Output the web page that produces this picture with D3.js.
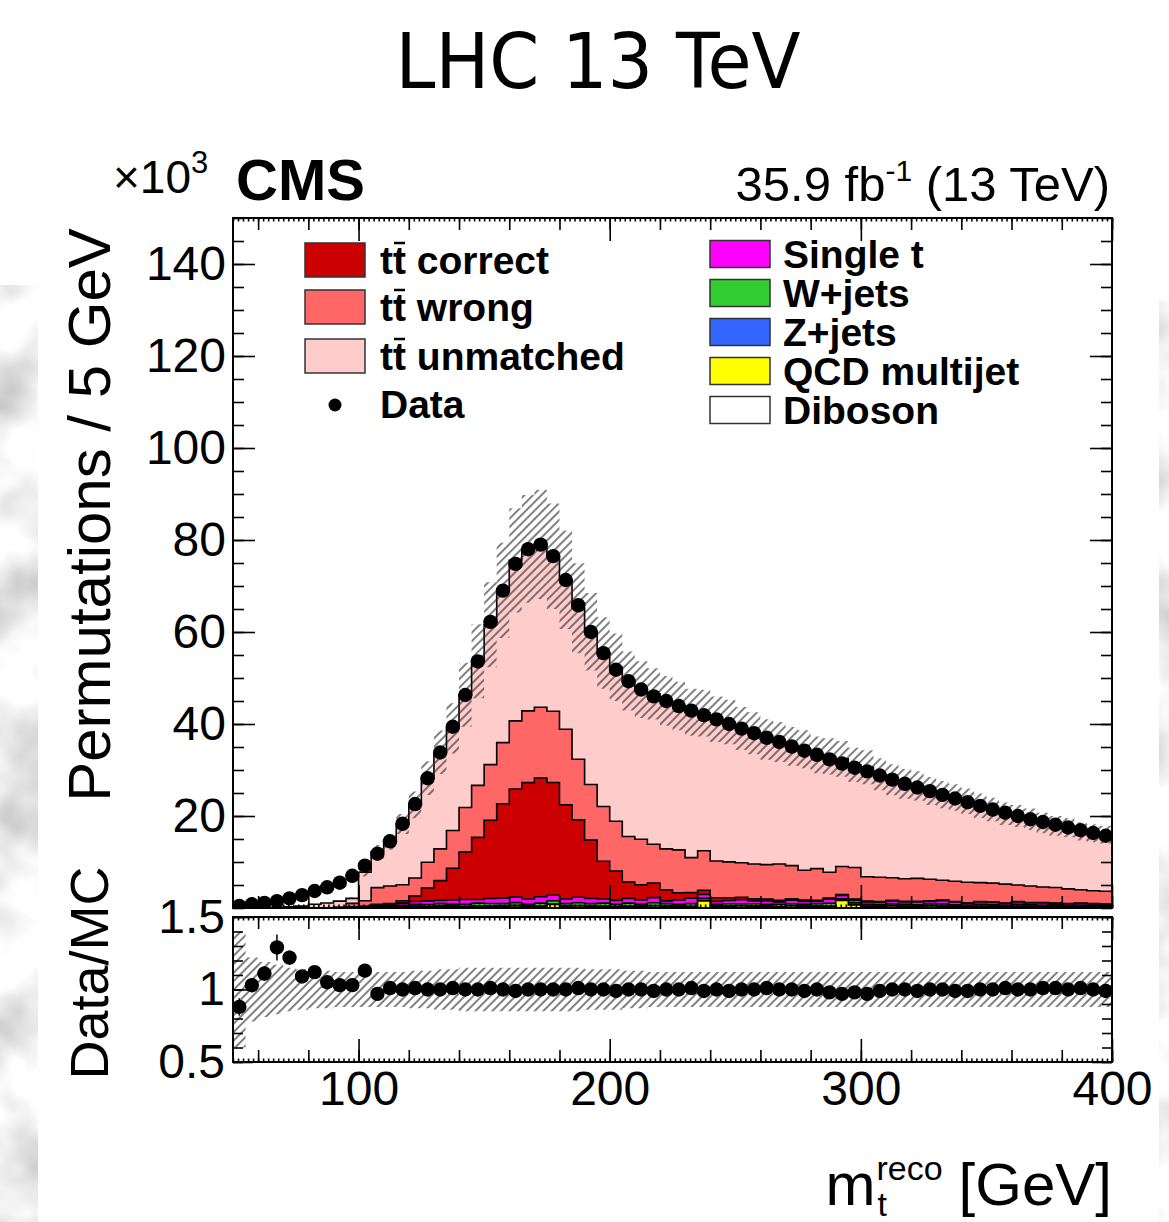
<!DOCTYPE html>
<html><head><meta charset="utf-8">
<script src="https://cdn.jsdelivr.net/npm/d3@7"></script>
<style>body{margin:0;background:#fff;} svg{display:block}</style>
</head><body>
<svg id="c" width="1169" height="1222"></svg>
<script>
// ---------- DATA (values in units of 10^3 permutations per 5 GeV bin) ----------
const binLow = d3.range(50, 400, 5);   // 70 bins of 5 GeV, 50..400 GeV
const binWidth = 5;

const dataVals = [0.45,0.8,1.1,1.5,2.1,2.8,3.7,4.5,5.5,7.0,
 9.2,11.8,14.5,18.3,22.6,28.2,33.8,39.4,46.3,53.6,
 62.2,69.0,74.8,78.0,79.0,76.5,71.3,65.8,60.0,55.4,
 51.8,49.3,47.5,46.0,45.0,43.9,42.9,41.9,41.0,40.0,
 39.0,38.0,37.0,36.1,35.1,34.2,33.3,32.3,31.4,30.5,
 29.7,28.8,27.9,27.0,26.2,25.4,24.6,23.8,23.0,22.2,
 21.4,20.7,20.0,19.3,18.7,18.1,17.5,16.9,16.3,15.7];

const ttCorrect = [0,0,0,0,0,0,0,0,0,0,
 0.05,0.1,0.2,0.5,1.2,2.8,4.3,6.9,10.3,13.5,
 17.0,20.5,23.5,25.3,25.8,24.5,20.5,16.8,12.7,8.2,
 6.4,3.6,3.3,3.2,2.4,1.6,1.2,0.9,0.8,0.6,
 0.5,0.45,0.4,0.35,0.3,0.3,0.25,0.25,0.2,0.2,
 0.2,0.18,0.18,0.16,0.15,0.15,0.14,0.13,0.12,0.12,
 0.11,0.1,0.1,0.1,0.09,0.09,0.08,0.08,0.08,0.07];

const ttWrong = [0,0,0,0,0,0,0,0,0.05,0.8,
 1.2,3.6,3.8,3.5,3.9,5.6,6.9,8.2,9.7,11.3,
 12.1,13.3,14.8,15.6,15.4,15.5,16.4,13.2,12.1,11.9,
 10.8,9.9,9.9,8.4,8.9,9.3,7.6,8.6,8.0,7.8,
 7.5,7.6,7.5,7.9,7.2,6.5,6.9,5.6,6.1,6.9,
 5.3,5.3,4.9,4.9,5.0,4.7,4.3,4.4,4.5,4.1,
 4.1,4.1,3.6,3.6,3.4,3.4,3.2,2.9,2.8,2.8];

const ttUnmatched = [0.05,0.08,0.1,0.15,0.25,0.4,0.77,1.04,1.34,1.09,
 6.2,7.8,9.6,13.2,15.9,18.3,21.0,22.2,24.5,27.0,
 30.4,33.1,34.9,35.2,35.4,33.7,32.5,32.8,33.2,33.4,
 33.5,33.8,32.5,32.7,32.2,31.3,31.6,29.9,30.8,30.4,
 29.2,28.4,27.2,26.5,25.9,26.3,24.7,25.2,23.4,22.3,
 23.8,22.4,21.3,20.6,20.1,19.2,18.6,18.2,17.6,16.7,
 16.0,15.3,15.0,14.5,13.9,13.4,13.3,12.7,12.5,12.3];

const singleT = [0,0,0,0,0,0,0.02,0.03,0.05,0.08,
 0.1,0.2,0.3,0.5,0.6,0.8,0.7,0.9,1.0,0.8,
 1.1,1.2,1.2,1.1,1.4,1.2,1.0,1.2,1.1,0.9,
 0.8,1.0,0.9,1.1,0.6,0.9,1.2,0.8,0.6,0.7,
 0.9,0.6,0.7,0.5,0.8,0.6,0.5,0.9,0.7,0.6,
 0.5,0.5,0.6,0.5,0.6,0.5,0.7,0.6,0.4,0.5,
 0.5,0.4,0.5,0.4,0.5,0.3,0.4,0.4,0.3,0.3];

const wJets = [0,0,0,0,0,0,0.01,0.02,0.03,0.05,
 0.08,0.15,0.2,0.3,0.4,0.4,0.5,0.4,0.5,0.6,
 0.5,0.5,0.6,0.4,0.6,0.7,0.5,0.6,0.5,0.6,
 0.5,0.6,0.4,0.6,0.5,0.4,0.6,0.5,0.4,0.5,
 0.4,0.5,0.4,0.5,0.4,0.4,0.5,0.6,0.3,0.4,
 0.4,0.3,0.4,0.4,0.3,0.4,0.5,0.3,0.3,0.4,
 0.3,0.3,0.4,0.3,0.3,0.3,0.2,0.3,0.2,0.2];

const zJets = [0,0,0,0,0,0,0,0.01,0.01,0.02,
 0.03,0.05,0.05,0.08,0.08,0.1,0.1,0.1,0.1,0.1,
 0.12,0.1,0.12,0.1,0.1,0.12,0.1,0.1,0.1,0.1,
 0.1,0.1,0.1,0.1,0.1,0.08,0.1,0.1,0.08,0.08,
 0.08,0.08,0.08,0.08,0.07,0.07,0.07,0.07,0.07,0.07,
 0.06,0.06,0.06,0.06,0.06,0.06,0.06,0.05,0.05,0.05,
 0.05,0.05,0.05,0.05,0.05,0.04,0.04,0.04,0.04,0.04];

const qcd = [0,0,0,0,0,0,0,0,0.02,0.05,
 0.1,0.3,0.2,0.15,0.3,0.2,0.3,0.3,0.2,0.3,
 0.3,0.3,0.4,0.3,0.3,0.7,0.3,0.4,0.3,0.3,
 0.2,0.3,0.3,0.4,0.3,0.3,0.2,1.5,0.3,0.3,
 0.4,0.3,0.3,0.2,0.4,0.3,0.3,0.3,1.6,0.6,
 0.3,0.3,0.4,0.3,0.3,0.4,0.3,0.3,0.2,0.3,
 0.3,0.2,0.3,0.3,0.2,0.3,0.2,0.2,0.3,0.2];

const diboson = [0,0,0,0,0,0,0,0,0,0.01,
 0.02,0.02,0.03,0.03,0.04,0.04,0.05,0.05,0.05,0.05,
 0.05,0.05,0.05,0.05,0.05,0.05,0.05,0.05,0.05,0.05,
 0.05,0.05,0.05,0.05,0.05,0.05,0.05,0.05,0.05,0.05,
 0.05,0.05,0.05,0.05,0.05,0.05,0.05,0.05,0.05,0.05,
 0.04,0.04,0.04,0.04,0.04,0.04,0.04,0.04,0.04,0.04,
 0.04,0.04,0.04,0.04,0.04,0.04,0.04,0.04,0.04,0.04];

// relative MC uncertainty (hatched band)
const mcUnc = [0.40,0.22,0.19,0.17,0.15,0.14,0.13,0.13,0.12,0.12,
 0.12,0.12,0.12,0.12,0.13,0.13,0.14,0.14,0.15,0.15,
 0.15,0.15,0.15,0.15,0.15,0.15,0.15,0.15,0.14,0.14,
 0.14,0.13,0.13,0.12,0.12,0.12,0.12,0.12,0.12,0.12,
 0.12,0.12,0.12,0.12,0.12,0.12,0.12,0.12,0.12,0.12,
 0.12,0.12,0.12,0.12,0.12,0.12,0.12,0.12,0.12,0.12,
 0.12,0.12,0.12,0.12,0.12,0.12,0.12,0.12,0.12,0.12];

// Data/MC ratio and its statistical error
const ratioVals = [0.88,1.03,1.11,1.29,1.22,1.09,1.12,1.05,1.03,1.03,
 1.13,0.97,1.01,1.00,1.01,1.00,1.00,1.01,1.00,1.00,
 1.01,1.00,0.99,1.00,1.00,1.00,1.00,1.01,1.00,1.00,
 0.99,1.00,1.00,0.99,1.00,1.00,1.01,0.99,1.00,0.99,
 1.00,1.00,1.01,1.00,1.00,0.99,1.00,0.98,0.97,0.98,
 0.97,0.99,1.00,1.00,0.99,1.00,1.00,0.99,0.99,1.00,
 1.00,1.01,1.00,1.00,1.01,1.01,1.00,1.01,1.00,0.99];
const ratioErr = [0.06,0.05,0.05,0.09,0.05,0.04,0.03,0.03,0.02,0.02,
 0.02,0.02,0.01,0.01,0.01,0.01,0.01,0.01,0.01,0.01,
 0.01,0.01,0.01,0.01,0.01,0.01,0.01,0.01,0.01,0.01,
 0.01,0.01,0.01,0.01,0.01,0.01,0.01,0.01,0.01,0.01,
 0.01,0.01,0.01,0.01,0.01,0.01,0.01,0.01,0.01,0.01,
 0.01,0.01,0.01,0.01,0.01,0.01,0.01,0.01,0.01,0.01,
 0.01,0.01,0.01,0.01,0.01,0.01,0.01,0.01,0.01,0.01];

const yMainTicks = [20,40,60,80,100,120,140];
const yRatioTicks = [0.5,1,1.5];
const xTicks = [100,200,300,400];

const stackKeys = ["diboson","qcd","zjets","wjets","singlet","correct","wrong","unmatched"];
const stackColors = {diboson:"#ffffff", qcd:"#ffff00", zjets:"#3366ff", wjets:"#33cc33",
  singlet:"#ff00ff", correct:"#cc0000", wrong:"#ff6666", unmatched:"#ffcccc"};
const seriesArrays = {diboson, qcd, zjets:zJets, wjets:wJets, singlet:singleT,
  correct:ttCorrect, wrong:ttWrong, unmatched:ttUnmatched};

// ---------- SETUP ----------
const svg = d3.select("#c");
const FONT = "'Liberation Sans', Arial, Helvetica, sans-serif";
const L = 233, R = 1112, T0 = 218, B0 = 908, RT = 917, RB = 1062;
const x = d3.scaleLinear([50, 400], [L, R]);
const y = d3.scaleLinear([0, 150], [B0, T0]);
const yr = d3.scaleLinear([0.5, 1.5], [RB, RT]);

const defs = svg.append("defs");
const pat = defs.append("pattern").attr("id","hatch").attr("patternUnits","userSpaceOnUse")
  .attr("width",6).attr("height",6).attr("patternTransform","rotate(45)");
pat.append("line").attr("x1",1).attr("y1",0).attr("x2",1).attr("y2",6)
  .attr("stroke","#222").attr("stroke-width",1.15);
defs.append("clipPath").attr("id","clipMain").append("rect")
  .attr("x",L).attr("y",T0).attr("width",R-L).attr("height",B0-T0);
defs.append("clipPath").attr("id","clipRatio").append("rect")
  .attr("x",L).attr("y",RT).attr("width",R-L).attr("height",RB-RT);
const filt = defs.append("filter").attr("id","stone").attr("x",0).attr("y",0).attr("width","100%").attr("height","100%");
filt.append("feTurbulence").attr("type","fractalNoise").attr("baseFrequency","0.014").attr("numOctaves",3).attr("seed",11);
filt.append("feColorMatrix").attr("type","matrix")
  .attr("values","0.9 0 0 0 0.42  0.9 0 0 0 0.42  0.9 0 0 0 0.42  0 0 0 0 1");

// background texture strips
svg.append("rect").attr("x",0).attr("y",285).attr("width",38).attr("height",937).attr("filter","url(#stone)");
svg.append("rect").attr("x",1159).attr("y",300).attr("width",10).attr("height",922).attr("filter","url(#stone)");

// ---------- TITLE ----------
svg.append("text").attr("x",598).attr("y",88).attr("text-anchor","middle")
  .attr("font-family","'DejaVu Sans', Verdana, sans-serif").attr("font-size",76)
  .attr("textLength",405).attr("lengthAdjust","spacingAndGlyphs").text("LHC 13 TeV");

// ---------- STACK ----------
const table = binLow.map((b, i) => {
  const row = {x: b};
  stackKeys.forEach(k => row[k] = seriesArrays[k][i]);
  return row;
});
const stacked = d3.stack().keys(stackKeys)(table);
const withEnd = arr => arr.concat([{...arr[arr.length-1], x: 400}]);

const gMain = svg.append("g").attr("clip-path","url(#clipMain)");
const areaFill = d3.area().curve(d3.curveStepAfter).x(d => x(d.x)).y0(y(0)).y1(d => y(d.v));
const lineTop = d3.line().curve(d3.curveStepAfter).x(d => x(d.x)).y(d => y(d.v));

// draw from top layer down, each filled to zero (THStack style)
for (let li = stacked.length - 1; li >= 0; li--) {
  const s = stacked[li];
  const pts = withEnd(s.map(d => ({x: d.data.x, v: d[1]})));
  gMain.append("path").attr("d", areaFill(pts)).attr("fill", stackColors[s.key]);
  gMain.append("path").attr("d", lineTop(pts)).attr("fill","none")
    .attr("stroke","#000").attr("stroke-width",1.6);
}

// MC uncertainty band
const totals = stacked[stacked.length-1].map(d => d[1]);
const bandPts = withEnd(binLow.map((b,i) => ({x:b, lo: totals[i]*(1-mcUnc[i]), hi: totals[i]*(1+mcUnc[i])})));
gMain.append("path")
  .attr("d", d3.area().curve(d3.curveStepAfter).x(d => x(d.x)).y0(d => y(d.lo)).y1(d => y(d.hi))(bandPts))
  .attr("fill","url(#hatch)");

// data points
gMain.selectAll("circle.data").data(binLow).join("circle")
  .attr("cx", b => x(b + binWidth/2)).attr("cy", (b,i) => y(dataVals[i])).attr("r", 7.2).attr("fill","#000");

// ---------- RATIO ----------
const gRatio = svg.append("g").attr("clip-path","url(#clipRatio)");
const rBandPts = withEnd(binLow.map((b,i) => ({x:b, lo: 1-mcUnc[i], hi: 1+mcUnc[i]})));
gRatio.append("path")
  .attr("d", d3.area().curve(d3.curveStepAfter).x(d => x(d.x)).y0(d => yr(d.lo)).y1(d => yr(d.hi))(rBandPts))
  .attr("fill","url(#hatch)");
gRatio.selectAll("line.err").data(binLow).join("line")
  .attr("x1", b => x(b + binWidth/2)).attr("x2", b => x(b + binWidth/2))
  .attr("y1", (b,i) => yr(ratioVals[i]-ratioErr[i])).attr("y2", (b,i) => yr(ratioVals[i]+ratioErr[i]))
  .attr("stroke","#000").attr("stroke-width",1.5);
gRatio.selectAll("circle.r").data(binLow).join("circle")
  .attr("cx", b => x(b + binWidth/2)).attr("cy", (b,i) => yr(ratioVals[i])).attr("r", 7.2).attr("fill","#000");

// ---------- AXES ----------
function styleAxis(g, fs) {
  g.select(".domain").remove();
  g.selectAll(".tick line").attr("stroke","#000").attr("stroke-width",1.6);
  g.selectAll("text").attr("font-family",FONT).attr("font-size",fs).attr("fill","#000");
}
const every = (a, b, s) => d3.range(a, b + 1e-9, s);
// main panel
styleAxis(svg.append("g").attr("transform",`translate(${L},0)`)
  .call(d3.axisLeft(y).tickValues(every(0,150,5)).tickSize(-11).tickFormat("")),0);
styleAxis(svg.append("g").attr("transform",`translate(${L},0)`)
  .call(d3.axisLeft(y).tickValues(yMainTicks).tickSize(-22).tickPadding(7).tickFormat(d3.format("d"))),48);
styleAxis(svg.append("g").attr("transform",`translate(${R},0)`)
  .call(d3.axisRight(y).tickValues(every(0,150,5)).tickSize(-11).tickFormat("")),0);
styleAxis(svg.append("g").attr("transform",`translate(${R},0)`)
  .call(d3.axisRight(y).tickValues(yMainTicks).tickSize(-22).tickFormat("")),0);
[[T0, d3.axisTop],[B0, d3.axisBottom],[RT, d3.axisTop],[RB, d3.axisBottom]].forEach(([yy, ax]) => {
  styleAxis(svg.append("g").attr("transform",`translate(0,${yy})`)
    .call(ax(x).tickValues(every(50,400,2)).tickSize(-3.5).tickFormat("")),0);
  styleAxis(svg.append("g").attr("transform",`translate(0,${yy})`)
    .call(ax(x).tickValues(every(60,400,20)).tickSize(-12).tickFormat("")),0);
  styleAxis(svg.append("g").attr("transform",`translate(0,${yy})`)
    .call(ax(x).tickValues(xTicks).tickSize(-23).tickFormat("")),0);
});
// ratio x labels
styleAxis(svg.append("g").attr("transform",`translate(0,${RB})`)
  .call(d3.axisBottom(x).tickValues(xTicks).tickSize(0).tickPadding(9).tickFormat(d3.format("d"))),48);
// ratio y
styleAxis(svg.append("g").attr("transform",`translate(${L},0)`)
  .call(d3.axisLeft(yr).tickValues(every(0.5,1.5,0.1)).tickSize(-10).tickFormat("")),0);
styleAxis(svg.append("g").attr("transform",`translate(${L},0)`)
  .call(d3.axisLeft(yr).tickValues(yRatioTicks).tickSize(-20).tickPadding(8).tickFormat(d => d === 1 ? "1" : d3.format(".1f")(d))),48);
styleAxis(svg.append("g").attr("transform",`translate(${R},0)`)
  .call(d3.axisRight(yr).tickValues(every(0.5,1.5,0.1)).tickSize(-10).tickFormat("")),0);
styleAxis(svg.append("g").attr("transform",`translate(${R},0)`)
  .call(d3.axisRight(yr).tickValues(yRatioTicks).tickSize(-20).tickFormat("")),0);

// frames
svg.append("rect").attr("x",L).attr("y",T0).attr("width",R-L).attr("height",B0-T0)
  .attr("fill","none").attr("stroke","#000").attr("stroke-width",2);
svg.append("rect").attr("x",L).attr("y",RT).attr("width",R-L).attr("height",RB-RT)
  .attr("fill","none").attr("stroke","#000").attr("stroke-width",2);

// ---------- LABELS ----------
svg.append("text").attr("transform","translate(110,515) rotate(-90)").attr("text-anchor","middle")
  .attr("font-family",FONT).attr("font-size",60).text("Permutations / 5 GeV");
svg.append("text").attr("transform","translate(108,973) rotate(-90)").attr("text-anchor","middle")
  .attr("font-family",FONT).attr("font-size",54).text("Data/MC");

const t10 = svg.append("text").attr("x",113).attr("y",193).attr("font-family",FONT).attr("font-size",46);
t10.append("tspan").text("×10");
t10.append("tspan").attr("font-size",31).attr("dy",-20).text("3");
svg.append("text").attr("x",236).attr("y",200).attr("font-family",FONT).attr("font-weight","bold")
  .attr("font-size",58).text("CMS");

const lumi = svg.append("text").attr("x",1110).attr("y",201).attr("text-anchor","end")
  .attr("font-family",FONT).attr("font-size",49);
lumi.append("tspan").text("35.9 fb");
lumi.append("tspan").attr("font-size",30).attr("dy",-20).text("-1");
lumi.append("tspan").attr("dy",20).text(" (13 TeV)");

// x title
const gev = svg.append("text").attr("x",1112).attr("y",1205).attr("text-anchor","end")
  .attr("font-family",FONT).attr("font-size",60).text("[GeV]");
const gevW = gev.node().getComputedTextLength();
const reco = svg.append("text").attr("x",1112-gevW-16).attr("y",1180).attr("text-anchor","end")
  .attr("font-family",FONT).attr("font-size",34).text("reco");
const recoW = reco.node().getComputedTextLength();
const subX = 1112-gevW-16-recoW;
svg.append("text").attr("x",subX+1).attr("y",1216).attr("font-family",FONT).attr("font-size",34).text("t");
svg.append("text").attr("x",subX-1).attr("y",1205).attr("text-anchor","end")
  .attr("font-family",FONT).attr("font-size",60).text("m");

// ---------- LEGEND ----------
const legLeft = [
  {label:"correct", fill:stackColors.correct, cy:260},
  {label:"wrong", fill:stackColors.wrong, cy:307},
  {label:"unmatched", fill:stackColors.unmatched, cy:356}
];
legLeft.forEach(d => {
  svg.append("rect").attr("x",305).attr("y",d.cy-17).attr("width",60).attr("height",34)
    .attr("fill",d.fill).attr("stroke","#333").attr("stroke-width",1.5);
  const t = svg.append("text").attr("x",380).attr("y",d.cy+14).attr("font-family",FONT)
    .attr("font-weight","bold").attr("font-size",39).text("tt " + d.label);
  const n = t.node();
  const s1 = n.getStartPositionOfChar(1).x, e1 = n.getEndPositionOfChar(1).x;
  svg.append("line").attr("x1",s1+1).attr("x2",e1-1).attr("y1",d.cy-17).attr("y2",d.cy-17)
    .attr("stroke","#000").attr("stroke-width",2.5);
});
// Data entry
svg.append("circle").attr("cx",335).attr("cy",405).attr("r",6.5).attr("fill","#000");
svg.append("text").attr("x",380).attr("y",418).attr("font-family",FONT).attr("font-weight","bold")
  .attr("font-size",39).text("Data");

const legRight = [
  {label:"Single t", fill:stackColors.singlet, cy:254},
  {label:"W+jets", fill:stackColors.wjets, cy:293},
  {label:"Z+jets", fill:stackColors.zjets, cy:332},
  {label:"QCD multijet", fill:stackColors.qcd, cy:371},
  {label:"Diboson", fill:stackColors.diboson, cy:410}
];
legRight.forEach(d => {
  svg.append("rect").attr("x",710).attr("y",d.cy-13.5).attr("width",60).attr("height",27)
    .attr("fill",d.fill).attr("stroke","#333").attr("stroke-width",1.5);
  svg.append("text").attr("x",783).attr("y",d.cy+14).attr("font-family",FONT)
    .attr("font-weight","bold").attr("font-size",39).text(d.label);
});
</script>
</body></html>
